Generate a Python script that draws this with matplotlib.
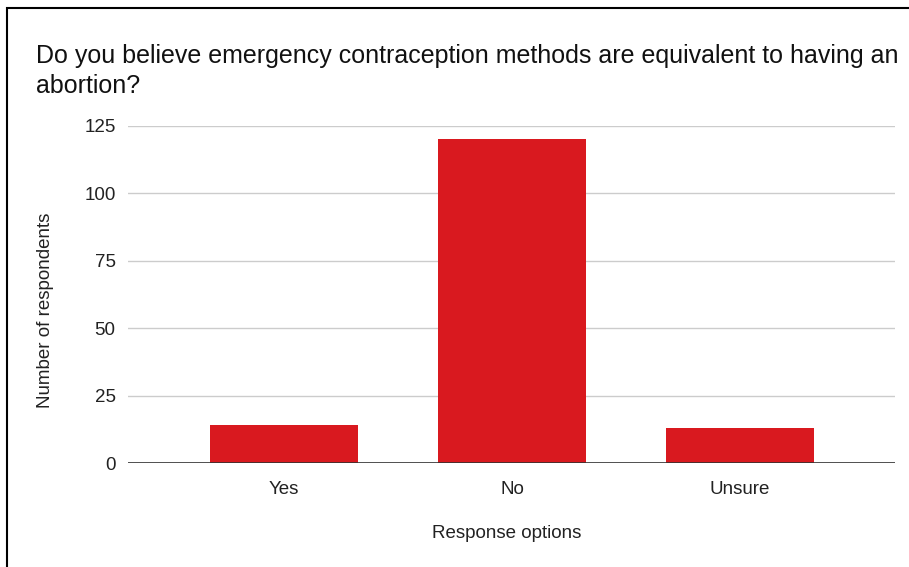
import matplotlib
matplotlib.use("Agg")
import matplotlib.pyplot as plt
from matplotlib.patches import Rectangle

categories = ["Yes", "No", "Unsure"]
respondents = [14, 120, 13]
y_ticks = [0, 25, 50, 75, 100, 125]

plt.rcParams['font.family'] = ['Liberation Sans', 'DejaVu Sans']

W, H = 909, 567
fig = plt.figure(figsize=(W / 100, H / 100), dpi=100)

# plot area in pixels
left, right, bottom, top = 128, 895, 463, 126
ax = fig.add_axes([left / W, 1 - bottom / H, (right - left) / W, (bottom - top) / H])

x = list(range(len(categories)))
ax.bar(x, respondents, width=0.65, color="#d9191f", zorder=3)
ax.set_xlim(-0.684, 2.68)
ax.set_ylim(0, 125)
ax.set_yticks(y_ticks)
ax.set_xticks(x)
ax.set_xticklabels(categories)
ax.grid(axis="y", color="#cccccc", linewidth=1, zorder=0)
ax.axhline(0, color="#333333", linewidth=1.2, zorder=4)
for s in ax.spines.values():
    s.set_visible(False)
ax.tick_params(axis="both", length=0, labelsize=13.5, colors="#222222")
ax.tick_params(axis="x", pad=13)
ax.tick_params(axis="y", pad=9)

fig.text(46 / W, 1 - 310 / H, "Number of respondents", rotation=90,
         ha="center", va="center", fontsize=13.5, color="#222222")
fig.text(507 / W, 1 - 534 / H, "Response options", ha="center", va="center",
         fontsize=13.5, color="#222222")
fig.text(36 / W, 1 - 71 / H, "Do you believe emergency contraception methods are equivalent to having an\nabortion?",
         ha="left", va="center", fontsize=18, color="#111111", linespacing=1.3)

# outer frame
fig.patches.append(Rectangle((7.5 / W, -0.1), 1.2, 1 - 8 / H + 0.1,
                             transform=fig.transFigure, fill=False,
                             edgecolor="black", linewidth=1.5))

fig.savefig("out.png", dpi=100)
